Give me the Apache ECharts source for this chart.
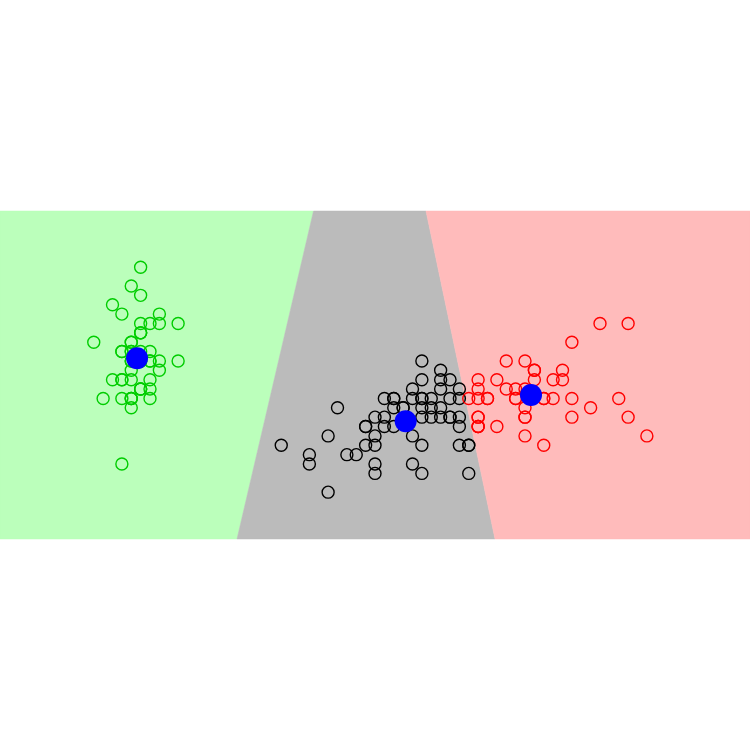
<!DOCTYPE html>
<html>
<head>
<meta charset="utf-8">
<script src="https://cdn.jsdelivr.net/npm/echarts@6/dist/echarts.min.js"></script>
<style>
  html, body { margin: 0; padding: 0; background: #ffffff; }
  #main { width: 750px; height: 750px; }
</style>
</head>
<body>
<div id="main"></div>
<script>
  // [petal length, sepal width] per cluster
  var greenPts = [[1.4,3.5],[1.4,3.0],[1.3,3.2],[1.5,3.1],[1.4,3.6],[1.7,3.9],[1.4,3.4],[1.5,3.4],[1.4,2.9],[1.5,3.1],
    [1.5,3.7],[1.6,3.4],[1.4,3.0],[1.1,3.0],[1.2,4.0],[1.5,4.4],[1.3,3.9],[1.4,3.5],[1.7,3.8],[1.5,3.8],
    [1.7,3.4],[1.5,3.7],[1.0,3.6],[1.7,3.3],[1.9,3.4],[1.6,3.0],[1.6,3.4],[1.5,3.5],[1.4,3.4],[1.6,3.2],
    [1.6,3.1],[1.5,3.4],[1.5,4.1],[1.4,4.2],[1.5,3.1],[1.2,3.2],[1.3,3.5],[1.4,3.6],[1.3,3.0],[1.5,3.4],
    [1.3,3.5],[1.3,2.3],[1.3,3.2],[1.6,3.5],[1.9,3.8],[1.4,3.0],[1.6,3.8],[1.4,3.2],[1.5,3.7],[1.4,3.3]]
  var blackPts = [[4.7,3.2],[4.5,3.2],[4.9,3.1],[4.0,2.3],[4.6,2.8],[4.5,2.8],[4.7,3.3],[3.3,2.4],[4.6,2.9],[3.9,2.7],
    [3.5,2.0],[4.2,3.0],[4.0,2.2],[4.7,2.9],[3.6,2.9],[4.4,3.1],[4.5,3.0],[4.1,2.7],[4.5,2.2],[3.9,2.5],
    [4.8,3.2],[4.0,2.8],[4.9,2.5],[4.7,2.8],[4.3,2.9],[4.4,3.0],[4.8,2.8],[4.5,2.9],[3.5,2.6],[3.8,2.4],
    [3.7,2.4],[3.9,2.7],[4.5,3.0],[4.5,3.4],[4.7,3.1],[4.4,2.3],[4.1,3.0],[4.0,2.5],[4.4,2.6],[4.6,3.0],
    [4.0,2.6],[3.3,2.3],[4.2,2.7],[4.2,3.0],[4.2,2.9],[4.3,2.9],[3.0,2.5],[4.1,2.8],
    [4.5,2.5],[5.0,2.5],[5.0,2.2],[4.9,2.8],[4.9,2.7],[4.8,2.8],[4.9,3.0],[4.8,3.0],[5.0,2.5]]
  var redPts = [[5.0,3.0],[5.1,2.7],[6.0,3.3],[5.1,2.7],[5.9,3.0],[5.6,2.9],[5.8,3.0],[6.6,3.0],[6.3,2.9],[5.8,2.5],
    [6.1,3.6],[5.1,3.2],[5.3,2.7],[5.5,3.0],[5.1,2.8],[5.3,3.2],[5.5,3.0],[6.7,3.8],[6.9,2.6],[5.7,3.2],
    [6.7,2.8],[5.7,3.3],[6.0,3.2],[5.6,2.8],[5.8,3.0],[6.1,2.8],[6.4,3.8],[5.6,2.8],[5.1,2.8],[5.6,2.6],
    [6.1,3.0],[5.6,3.4],[5.5,3.1],[5.4,3.1],[5.6,3.1],[5.1,3.1],[5.1,2.7],[5.9,3.2],[5.7,3.3],[5.2,3.0],
    [5.2,3.0],[5.4,3.4],[5.1,3.0]]
  var centers = [[1.462,3.428],[4.327,2.757],[5.664,3.037]]

  // decision regions (polygons in data units)
  var greenRegion = [[0,1.5],[0,5.0],[3.344,5.0],[2.528,1.5]]
  var grayRegion = [[2.528,1.5],[3.344,5.0],[4.544,5.0],[5.28,1.5]]
  var redRegion = [[4.544,5.0],[8,5.0],[8,1.5],[5.28,1.5]]
  var regions = [greenRegion, grayRegion, redRegion]
  var regionColors = ['#BBFFBB', '#BBBBBB', '#FFBBBB']

  var myChart = echarts.init(document.getElementById('main'))

  function ring(name, data, color) {
    return {
      name: name,
      type: 'scatter',
      data: data,
      symbol: 'circle',
      symbolSize: 12,
      itemStyle: { color: 'rgba(0,0,0,0)', borderColor: color, borderWidth: 1.4, opacity: 1 },
      z: 3
    }
  }

  myChart.setOption({
    animation: false,
    grid: { left: 0, right: 0, top: 211, bottom: 211 },
    xAxis: { type: 'value', min: 0, max: 8, show: false },
    yAxis: { type: 'value', min: 1.5, max: 5.0, show: false },
    series: [
      {
        type: 'custom',
        data: regions.map(function (r, i) { return [i] }),
        renderItem: function (params, api) {
          var pts = regions[params.dataIndex].map(function (p) { return api.coord(p) })
          return {
            type: 'polygon',
            shape: { points: pts },
            style: { fill: regionColors[params.dataIndex], stroke: regionColors[params.dataIndex], lineWidth: 0.5 }
          }
        },
        silent: true,
        z: 1
      },
      ring('c1', greenPts, '#00CD00'),
      ring('c2', blackPts, '#000000'),
      ring('c3', redPts, '#FF0000'),
      {
        name: 'centers',
        type: 'scatter',
        data: centers,
        symbolSize: 22,
        itemStyle: { color: '#0000FF', opacity: 1 },
        z: 4
      }
    ]
  })
</script>
</body>
</html>
